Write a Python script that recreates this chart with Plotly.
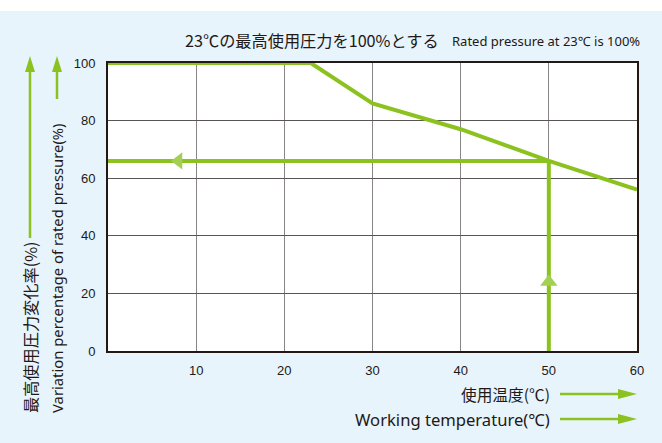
import plotly.graph_objects as go

# Data
temps = [0, 23, 30, 40, 50, 60]
pressure = [100, 100, 86, 77, 66, 56]
read_temp = 50
read_pct = 66
x_ticks = [10, 20, 30, 40, 50, 60]
y_ticks = [0, 20, 40, 60, 80, 100]

GREEN = "#8cc21f"
GREEN_L = "#a3cf52"
BG = "#e7f4fc"
W, H = 662, 443
L, R, T, B = 108, 637, 63, 351

def px(xp):
    return (xp - L) / (R - L)

def py(yp):
    return (B - yp) / (B - T)

fig = go.Figure()

# reading guide lines
fig.add_trace(go.Scatter(x=[read_temp, read_temp], y=[0, read_pct], mode="lines",
                         line=dict(color=GREEN, width=4), hoverinfo="skip", cliponaxis=False))
fig.add_trace(go.Scatter(x=[read_temp, 0], y=[read_pct, read_pct], mode="lines",
                         line=dict(color=GREEN, width=4), hoverinfo="skip", cliponaxis=False))
# main curve
fig.add_trace(go.Scatter(x=temps, y=pressure, mode="lines",
                         line=dict(color=GREEN, width=4), hoverinfo="skip", cliponaxis=False))
# arrowheads inside plot
fig.add_trace(go.Scatter(x=[8], y=[read_pct], mode="markers",
                         marker=dict(symbol="triangle-left", size=15, color=GREEN_L), hoverinfo="skip"))
fig.add_trace(go.Scatter(x=[read_temp], y=[24], mode="markers",
                         marker=dict(symbol="triangle-up", size=15, color=GREEN_L), hoverinfo="skip"))

shapes = []
# background
shapes.append(dict(type="rect", xref="paper", yref="paper", x0=px(0), x1=px(W), y0=py(H), y1=py(11),
                   fillcolor=BG, line=dict(width=0), layer="below"))
# plot area white
shapes.append(dict(type="rect", xref="paper", yref="paper", x0=0, x1=1, y0=0, y1=1,
                   fillcolor="white", line=dict(width=0), layer="below"))

def arrow_up(xc, ybot, ytip):
    shapes.append(dict(type="line", xref="paper", yref="paper", x0=px(xc), x1=px(xc),
                       y0=py(ybot), y1=py(ytip + 14), line=dict(color=GREEN, width=2.5)))
    shapes.append(dict(type="path", xref="paper", yref="paper",
                       path=f"M {px(xc-5)} {py(ytip+16)} L {px(xc+5)} {py(ytip+16)} L {px(xc)} {py(ytip)} Z",
                       fillcolor=GREEN, line=dict(width=0)))

def arrow_right(yc, xl, xtip):
    shapes.append(dict(type="line", xref="paper", yref="paper", x0=px(xl), x1=px(xtip - 16),
                       y0=py(yc), y1=py(yc), line=dict(color=GREEN, width=2.5)))
    shapes.append(dict(type="path", xref="paper", yref="paper",
                       path=f"M {px(xtip-19)} {py(yc-5)} L {px(xtip-19)} {py(yc+5)} L {px(xtip)} {py(yc)} Z",
                       fillcolor=GREEN, line=dict(width=0)))

arrow_up(30, 238, 56)
arrow_up(57, 99, 56)
arrow_right(394, 560, 637)
arrow_right(419, 560, 637)

annotations = [
    dict(x=px(183), y=py(40), xref="paper", yref="paper", xanchor="left", yanchor="middle",
         text="23℃の最高使用圧力を100%とする", showarrow=False,
         font=dict(family="Noto Sans CJK JP", size=16.2, color="#231815")),
    dict(x=px(642), y=py(41), xref="paper", yref="paper", xanchor="right", yanchor="middle",
         text="Rated pressure at 23℃ is 100%", showarrow=False,
         font=dict(family="Noto Sans", size=13, color="#231815")),
    dict(x=px(30), y=py(415), xref="paper", yref="paper", xanchor="center", yanchor="bottom",
         text="最高使用圧力変化率(%)", textangle=-90, showarrow=False,
         font=dict(family="Noto Sans CJK JP", size=16.2, color="#231815")),
    dict(x=px(57), y=py(415), xref="paper", yref="paper", xanchor="center", yanchor="bottom",
         text="Variation percentage of rated pressure(%)", textangle=-90, showarrow=False,
         font=dict(family="Noto Sans", size=14.8, color="#231815")),
    dict(x=px(552), y=py(394), xref="paper", yref="paper", xanchor="right", yanchor="middle",
         text="使用温度(℃)", showarrow=False,
         font=dict(family="Noto Sans CJK JP", size=15.7, color="#231815")),
    dict(x=px(552), y=py(419), xref="paper", yref="paper", xanchor="right", yanchor="middle",
         text="Working temperature(℃)", showarrow=False,
         font=dict(family="Noto Sans", size=16.6, color="#231815")),
]

fig.update_layout(
    width=W, height=H,
    margin=dict(l=L, r=W - R, t=T, b=H - B, pad=0),
    paper_bgcolor="white", plot_bgcolor="rgba(0,0,0,0)",
    showlegend=False,
    shapes=shapes, annotations=annotations,
    xaxis=dict(range=[0, 60], tickvals=x_ticks, ticktext=[str(v) for v in x_ticks],
               showgrid=True, gridcolor="#8a8585", gridwidth=1.2, zeroline=False,
               showline=True, linecolor="#231815", linewidth=2, mirror=True,
               ticks="", ticklabelstandoff=6,
               tickfont=dict(family="Liberation Sans", size=13, color="#231815")),
    yaxis=dict(range=[0, 100], tickvals=y_ticks, ticktext=[str(v) for v in y_ticks],
               showgrid=True, gridcolor="#5a5555", gridwidth=1.2, zeroline=False,
               showline=True, linecolor="#231815", linewidth=2, mirror=True,
               ticks="", ticklabelstandoff=8,
               tickfont=dict(family="Liberation Sans", size=13, color="#231815")),
)

fig.write_html("out.html", config={"displayModeBar": False},
               post_script="document.body.style.margin='0';document.body.style.overflow='hidden';")
